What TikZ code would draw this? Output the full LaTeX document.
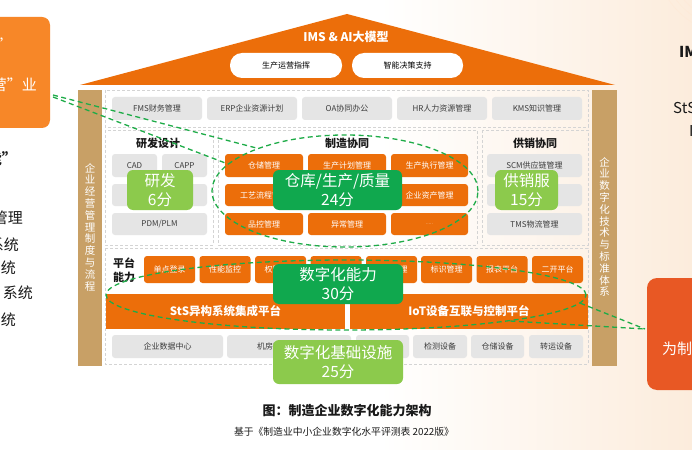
\documentclass[tikz,border=0pt]{standalone}
\usepackage{fontspec}
\setmainfont{Noto Sans CJK SC}
\usetikzlibrary{shapes.geometric}
\definecolor{hor}{RGB}{236,110,10}
\definecolor{boxgray}{RGB}{229,229,229}
\definecolor{gtext}{RGB}{60,60,60}
\definecolor{beige}{RGB}{200,160,102}
\definecolor{dgreen}{RGB}{16,168,78}
\definecolor{lgreen}{RGB}{140,202,76}
\definecolor{dashgreen}{RGB}{30,172,72}
\definecolor{lorange}{RGB}{247,135,40}
\definecolor{rorange}{RGB}{232,88,36}
\definecolor{peach}{RGB}{252,236,220}
\definecolor{framegray}{RGB}{212,212,212}
\definecolor{ink}{RGB}{25,25,25}
\tikzset{
  gbox/.style={fill=boxgray, rounded corners=3pt, text=gtext, inner sep=0pt, font=\fontsize{8}{9.6}\selectfont},
  obox/.style={fill=hor, rounded corners=3pt, text=white, inner sep=0pt, font=\fontsize{8}{9.6}\selectfont},
  badge/.style={rounded corners=6pt, text=white, align=center, inner sep=0pt, font=\fontsize{15.5}{19}\selectfont},
  panel/.style={draw=framegray, dash pattern=on 3pt off 2pt, line width=0.6pt},
  gdash/.style={draw=dashgreen, line width=1.3pt, dash pattern=on 5pt off 3.5pt},
  sectitle/.style={font=\bfseries\fontsize{11}{13}\selectfont, text=ink, inner sep=0pt},
  coltext/.style={text=white, align=center, inner sep=0pt, font=\fontsize{10.5}{11.8}\selectfont},
  edgetext/.style={text=ink, inner sep=0pt, font=\fontsize{15}{18}\selectfont},
}
\begin{document}
\begin{tikzpicture}[x=1pt,y=-1pt]
\useasboundingbox (0,0) rectangle (692,449);
\clip (0,0) rectangle (692,449);
\fill[white] (0,0) rectangle (692,449);
\shade[left color=white, right color=peach] (380,0) rectangle (692,449);
% decorative arcs top right
\foreach \r in {62,68,74,80}{\draw[peach!70!orange!40, line width=0.4pt] (735,-45) circle (\r);}

% left cropped panel
\node[fill=lorange, rounded corners=8pt, minimum width=70pt, minimum height=111pt, inner sep=0pt] (lbox) at (15,72.5) {};
\node[anchor=west, text=white, inner sep=0pt, font=\fontsize{15}{18}\selectfont] (lq) at (-3,44) {”};
\node[anchor=east, text=white, inner sep=0pt, font=\fontsize{15}{18}\selectfont] (lt1) at (37,85) {营”业};
\node[anchor=east, edgetext, font=\bfseries\fontsize{15}{18}\selectfont] (lh) at (17,159) {能”};
\node[anchor=east, edgetext] (l1) at (23,218) {管理};
\node[anchor=east, edgetext] (l2) at (19,245) {系统};
\node[anchor=east, edgetext] (l3) at (16,268) {统};
\node[anchor=east, edgetext] (l4) at (33,293) {系统};
\node[anchor=east, edgetext] (l5) at (16,320) {统};

% right cropped panel
\node[anchor=west, edgetext, font=\bfseries\fontsize{15}{18}\selectfont] (r1) at (679,52) {IM};
\node[anchor=west, edgetext] (r2) at (673,108) {StS};
\node[anchor=west, edgetext] (r3) at (689,131) {I};
\node[fill=rorange, rounded corners=10pt, minimum width=80pt, minimum height=112pt, inner sep=0pt] (rbox) at (687,334) {};
\node[anchor=west, text=white, inner sep=0pt, font=\fontsize{15}{18}\selectfont] (rt) at (662,349) {为制};

\coordinate (ltipA) at (53,95);
\coordinate (ltipB) at (53,97);
\coordinate (rtip) at (645,329);

% roof
\fill[hor] (80,85) -- (347,14) -- (615,85) -- cycle;
\node[text=white, inner sep=0pt, font=\bfseries\fontsize{12}{14}\selectfont] (title) at (346,37) {IMS \& AI大模型};
\node[fill=white, rounded corners=12pt, minimum width=112pt, minimum height=25pt, inner sep=0pt, font=\fontsize{8}{9.6}\selectfont] (p1) at (286,65.5) {生产运营指挥};
\node[fill=white, rounded corners=12pt, minimum width=111pt, minimum height=25pt, inner sep=0pt, font=\fontsize{8}{9.6}\selectfont] (p2) at (407.5,65.5) {智能决策支持};

% side columns
\node[fill=beige, minimum width=24pt, minimum height=276pt, inner sep=0pt] (lcol) at (90,228) {};
\node[coltext] (lcolt) at (90,227) {企\\业\\经\\营\\管\\理\\制\\度\\与\\流\\程};
\node[fill=beige, minimum width=25pt, minimum height=276pt, inner sep=0pt] (rcol) at (604.5,228) {};
\node[coltext] (rcolt) at (604.5,227) {企\\业\\数\\字\\化\\技\\术\\与\\标\\准\\体\\系};

% panels
\draw[panel] (105,90) rectangle (588,127);
\draw[panel] (105,130) rectangle (213,245);
\draw[panel] (218,130) rectangle (477,245);
\draw[panel] (482,130) rectangle (588,245);
\draw[panel] (105,248) rectangle (588,364);

% row 1
\node[gbox, minimum width=90pt, minimum height=23pt] (fms) at (157,108.5) {FMS财务管理};
\node[gbox, minimum width=90pt, minimum height=23pt] (erp) at (252,108.5) {ERP企业资源计划};
\node[gbox, minimum width=90pt, minimum height=23pt] (oa) at (347,108.5) {OA协同办公};
\node[gbox, minimum width=90pt, minimum height=23pt] (hr) at (442,108.5) {HR人力资源管理};
\node[gbox, minimum width=90pt, minimum height=23pt] (kms) at (537,108.5) {KMS知识管理};

% section titles
\node[sectitle] (t1) at (158,143) {研发设计};
\node[sectitle] (t2) at (347,143) {制造协同};
\node[sectitle] (t3) at (535,143) {供销协同};

% R&D
\node[gbox, minimum width=45pt, minimum height=23pt] (cad) at (134.5,165.5) {CAD};
\node[gbox, minimum width=45pt, minimum height=23pt] (capp) at (184.5,165.5) {CAPP};
\node[gbox, minimum width=45pt, minimum height=22pt] (cae) at (134.5,195) {CAE};
\node[gbox, minimum width=45pt, minimum height=22pt] (cam) at (184.5,195) {CAM};
\node[gbox, minimum width=95pt, minimum height=22pt] (pdm) at (159.5,224) {PDM/PLM};

% manufacturing
\node[obox, minimum width=78pt, minimum height=23pt] (m11) at (264,165.5) {仓储管理};
\node[obox, minimum width=78pt, minimum height=23pt] (m12) at (347,165.5) {生产计划管理};
\node[obox, minimum width=77pt, minimum height=23pt] (m13) at (429.5,165.5) {生产执行管理};
\node[obox, minimum width=78pt, minimum height=22pt] (m21) at (264,195) {工艺流程管理};
\node[obox, minimum width=78pt, minimum height=22pt] (m22) at (347,195) {};
\node[obox, minimum width=77pt, minimum height=22pt] (m23) at (429.5,195) {企业资产管理};
\node[obox, minimum width=78pt, minimum height=22pt] (m31) at (264,224) {品控管理};
\node[obox, minimum width=78pt, minimum height=22pt] (m32) at (347,224) {异常管理};
\node[obox, minimum width=77pt, minimum height=22pt, text=white!70!hor, font=\fontsize{5}{6}\selectfont] (m33) at (429.5,224) {.....};

% supply
\node[gbox, minimum width=95pt, minimum height=23pt] (scm) at (534.5,165.5) {SCM供应链管理};
\node[gbox, minimum width=95pt, minimum height=22pt] (s2) at (534.5,195) {};
\node[gbox, minimum width=95pt, minimum height=22pt] (tms) at (534.5,224) {TMS物流管理};

% platform
\node[sectitle, align=center, font=\bfseries\fontsize{11}{13.5}\selectfont] (plat) at (124,270) {平台\\能力};
\node[obox, minimum width=51pt, minimum height=27pt] (b1) at (169.5,269.5) {单点登录};
\node[obox, minimum width=51pt, minimum height=27pt] (b2) at (225,269.5) {性能监控};
\node[obox, minimum width=51pt, minimum height=27pt] (b3) at (280.5,269.5) {权限管理};
\node[obox, minimum width=51pt, minimum height=27pt] (b4) at (336,269.5) {};
\node[obox, minimum width=51pt, minimum height=27pt] (b5) at (391.5,269.5) {数据管理};
\node[obox, minimum width=51pt, minimum height=27pt] (b6) at (446.5,269.5) {标识管理};
\node[obox, minimum width=51pt, minimum height=27pt] (b7) at (502,269.5) {报表平台};
\node[obox, minimum width=51pt, minimum height=27pt] (b8) at (557.5,269.5) {二开平台};
\node[fill=hor, minimum width=239pt, minimum height=35pt, inner sep=0pt, text=white, font=\bfseries\fontsize{11.5}{13}\selectfont] (sts) at (225.5,311.5) {StS异构系统集成平台};
\node[fill=hor, minimum width=238pt, minimum height=35pt, inner sep=0pt, text=white, font=\bfseries\fontsize{11.5}{13}\selectfont] (iot) at (469,311.5) {IoT设备互联与控制平台};

% infrastructure
\node[gbox, minimum width=111pt, minimum height=23pt] (i1) at (167.5,346.5) {企业数据中心};
\node[gbox, minimum width=124pt, minimum height=23pt] (i2) at (289,346.5) {机房网络与服务器};
\node[gbox, minimum width=53pt, minimum height=23pt] (i3) at (382.5,346.5) {};
\node[gbox, minimum width=54pt, minimum height=23pt] (i4) at (440,346.5) {检测设备};
\node[gbox, minimum width=53pt, minimum height=23pt] (i5) at (497.5,346.5) {仓储设备};
\node[gbox, minimum width=54pt, minimum height=23pt] (i6) at (556,346.5) {转运设备};

% dashed callouts
\node[ellipse, draw=dashgreen, line width=1.3pt, dash pattern=on 5pt off 3.5pt, minimum width=266pt, minimum height=112pt, inner sep=0pt] (e1) at (345,191) {};
\draw[gdash] (ltipA) -- (e1.154);
\draw[gdash] (ltipB) -- (e1.167);
\node[ellipse, draw=dashgreen, line width=1.3pt, dash pattern=on 5pt off 3.5pt, minimum width=480pt, minimum height=70pt, inner sep=0pt] (e2) at (346,295) {};
\draw[gdash] (e2.-2) -- (rtip);
\draw[gdash] (e2.-9) -- (rtip);

% badges
\node[badge, fill=lgreen, minimum width=66pt, minimum height=40pt] (bd1) at (160,190) {研发\\6分};
\node[badge, fill=dgreen, minimum width=129pt, minimum height=40pt] (bd2) at (337.5,190) {仓库/生产/质量\\24分};
\node[badge, fill=lgreen, minimum width=63pt, minimum height=40pt] (bd3) at (526.5,190) {供销服\\15分};
\node[badge, fill=dgreen, minimum width=130pt, minimum height=40pt] (bd4) at (338,284) {数字化能力\\30分};
\node[badge, fill=lgreen, minimum width=130pt, minimum height=44pt] (bd5) at (338,362) {数字化基础设施\\25分};

% captions
\node[text=ink, inner sep=0pt, font=\bfseries\fontsize{13}{15}\selectfont] (cap1) at (347,411) {图：制造企业数字化能力架构};
\node[text=ink, inner sep=0pt, font=\fontsize{9.8}{12}\selectfont] (cap2) at (344,432) {基于《制造业中小企业数字化水平评测表\ 2022版》};
\end{tikzpicture}
\end{document}
